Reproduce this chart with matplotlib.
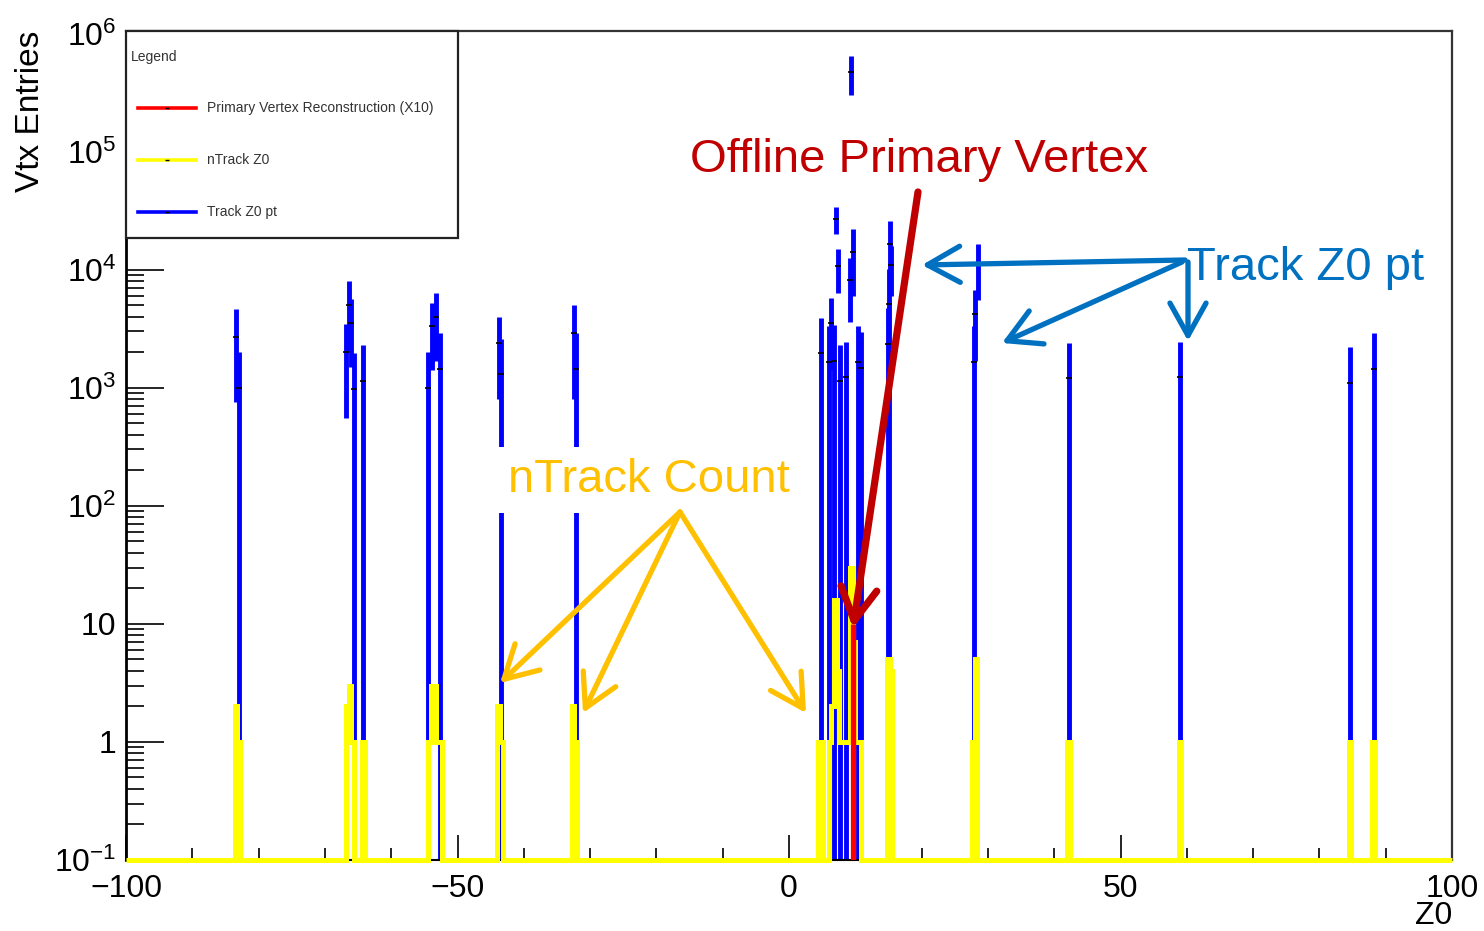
import numpy as np
import matplotlib.pyplot as plt
from matplotlib.patches import FancyArrowPatch, Rectangle
from matplotlib.lines import Line2D
from matplotlib.ticker import LogLocator, MultipleLocator, NullFormatter

plt.rcParams['font.family'] = ['Liberation Sans', 'DejaVu Sans']
plt.rcParams['mathtext.fontset'] = 'custom'
plt.rcParams['mathtext.rm'] = 'Liberation Sans'
plt.rcParams['mathtext.it'] = 'Liberation Sans:italic'
plt.rcParams['mathtext.bf'] = 'Liberation Sans:bold'

# Track Z0 pt (blue, drawn as error bars): z, content, error
track_z = [-83.4, -83.0, -66.8, -66.4, -66.0, -65.6, -64.3, -54.4, -53.8, -53.3, -52.7,
           -43.8, -43.5, -32.5, -32.2,
           4.8, 6.0, 6.4, 6.8, 7.1, 7.45, 7.7, 8.6, 9.2, 9.35, 9.6, 10.4, 10.9,
           14.9, 15.1, 15.2, 15.35, 27.9, 28.1, 28.5, 42.3, 59.0, 84.6, 88.2]
track_pt = [2700, 1000, 2000, 5000, 3550, 980, 1140, 1000, 3300, 4000, 1450,
            2400, 1300, 2900, 1450,
            1950, 1650, 3550, 1700, 27000, 10700, 1150, 1230, 8100, 470000, 14000, 1650, 1480,
            2350, 5100, 16500, 11000, 1650, 4200, 11000, 1200, 1225, 1100, 1450]
track_err = [1950, 1000, 1450, 3000, 2050, 980, 1140, 1000, 1900, 2300, 1450,
             1600, 1300, 2100, 1450,
             1950, 1650, 2150, 1700, 7000, 4400, 1150, 1230, 4500, 170000, 8000, 1650, 1480,
             2350, 5100, 9500, 5000, 1650, 2500, 5500, 1200, 1225, 1100, 1450]

# nTrack Z0 (yellow histogram): filled bins (bin centre, count)
ntrack_z = [-83.4, -83.0, -66.6, -66.2, -65.8, -64.2, -54.2, -53.8, -53.4, -53.0, -52.6,
            -43.8, -43.4, -32.6, -32.2,
            4.6, 5.0, 6.2, 6.6, 7.0, 7.4, 7.8, 8.2, 8.6, 9.0, 9.4, 9.8, 10.2, 10.6,
            15.0, 15.4, 27.8, 28.2, 42.2, 59.0, 84.6, 88.2]
ntrack_n = [2, 1, 2, 3, 1, 1, 1, 3, 3, 1, 1,
            2, 1, 2, 1,
            1, 1, 1, 2, 16, 4, 1, 1, 1, 1, 30, 7, 1, 1,
            5, 4, 1, 5, 1, 1, 1, 1]

# Primary Vertex Reconstruction (X10)
pv_z = [9.6]
pv_val = [10]

bin_edges = np.linspace(-100, 100, 501)
y_floor = 0.1

y_ticks = [0.1, 1, 10, 100, 1e3, 1e4, 1e5, 1e6]
y_labels = [r'$10^{-1}$', '1', '10', r'$10^{2}$', r'$10^{3}$', r'$10^{4}$', r'$10^{5}$', r'$10^{6}$']

W, H = 1484, 931
fig = plt.figure(figsize=(W / 100, H / 100), dpi=100)
ax = fig.add_axes([126 / W, 71 / H, 1326 / W, 829 / H])
ax.set_yscale('log')
ax.set_xlim(-100, 100)
ax.set_ylim(y_floor, 1.05e6)

# blue error bars
pt = np.array(track_pt, float)
err = np.array(track_err, float)
lo = np.clip(pt - err, y_floor, None)
ax.vlines(track_z, lo, pt + err, colors='#0000ff', lw=3.5, zorder=2)
ax.plot(track_z, track_pt, ls='none', marker='_', ms=4, mew=1.2, color='black', zorder=2.5)

# yellow histogram, empty bins sit on the axis floor
counts = np.full(len(bin_edges) - 1, y_floor)
counts[np.digitize(ntrack_z, bin_edges) - 1] = ntrack_n
ax.stairs(counts, bin_edges, color='#ffff00', lw=3.6, baseline=None, zorder=3, clip_on=False)

# red primary vertex
ax.vlines(pv_z, y_floor, pv_val, colors='#ff0000', lw=3.8, zorder=4)

# axes styling (ROOT look)
ax.set_yticks(y_ticks, labels=y_labels)
ax.yaxis.set_minor_locator(LogLocator(base=10, subs=np.arange(2, 10)))
ax.yaxis.set_minor_formatter(NullFormatter())
ax.xaxis.set_major_locator(MultipleLocator(50))
ax.xaxis.set_minor_locator(MultipleLocator(10))
ax.tick_params(axis='y', which='major', direction='in', length=27, width=1.2, labelsize=23, pad=7)
ax.tick_params(axis='y', which='minor', direction='in', length=13, width=1.2)
ax.tick_params(axis='x', which='major', direction='in', length=18, width=1.2, labelsize=23, pad=10)
ax.tick_params(axis='x', which='minor', direction='in', length=9, width=1.2)
for s in ['top', 'right']:
    ax.spines[s].set_linewidth(1.6)
    ax.spines[s].set_color('#333333')
ax.spines['left'].set_linewidth(2)
ax.spines['bottom'].set_linewidth(1.5)

ax.set_ylabel('Vtx Entries', loc='top', fontsize=24, labelpad=6)
ax.set_xlabel('Z0', loc='right', fontsize=23, labelpad=-2)


def fp(x, y):
    return (x / W, 1 - y / H)


# legend box
fig.add_artist(Rectangle(fp(126, 238), 332 / W, 207 / H, transform=fig.transFigure,
                         fc='white', ec='#222222', lw=1.6, zorder=5))
fig.text(*fp(131, 57), 'Legend', fontsize=10, va='center', color='#333333', zorder=6)
leg_entries = [('Primary Vertex Reconstruction (X10)', '#ff0000', 108),
               ('nTrack Z0', '#ffff00', 160),
               ('Track Z0 pt', '#0000ff', 212)]
for label, c, yy in leg_entries:
    fig.add_artist(Line2D([138 / W, 196 / W], [1 - yy / H] * 2, transform=fig.transFigure,
                          color=c, lw=2.6, zorder=6))
    fig.add_artist(Line2D([167 / W], [1 - yy / H], transform=fig.transFigure, marker='_',
                          ms=3, mew=1, color='black', zorder=7))
    fig.text(*fp(207, yy), label, fontsize=10, va='center', color='#333333', zorder=6)

# annotations
fig.text(*fp(690, 172), 'Offline Primary Vertex', color='#C00000', fontsize=34,
         va='baseline', zorder=8)
fig.text(*fp(508, 492), 'nTrack Count', color='#FFC000', fontsize=34, va='baseline',
         bbox=dict(fc='white', ec='none', pad=8), zorder=8)
fig.text(*fp(1187, 280), 'Track Z0 pt', color='#0070C0', fontsize=34, va='baseline', zorder=8)

arrows = [((918, 192), (853, 628), '#C00000', 5.2),
          ((680, 512), (500, 683), '#FFC000', 3.8),
          ((680, 512), (583, 713), '#FFC000', 3.8),
          ((680, 512), (806, 713), '#FFC000', 3.8),
          ((1185, 260), (922, 265), '#0070C0', 3.8),
          ((1182, 262), (1002, 343), '#0070C0', 3.8),
          ((1188, 262), (1188, 341), '#0070C0', 3.8)]
for a, b, c, w in arrows:
    fig.add_artist(FancyArrowPatch(fp(*a), fp(*b), transform=fig.transFigure,
                                   arrowstyle='->,head_length=0.9,head_width=0.5',
                                   mutation_scale=26, lw=w, color=c,
                                   shrinkA=0, shrinkB=0, zorder=9))

fig.savefig('out.png', dpi=100)
